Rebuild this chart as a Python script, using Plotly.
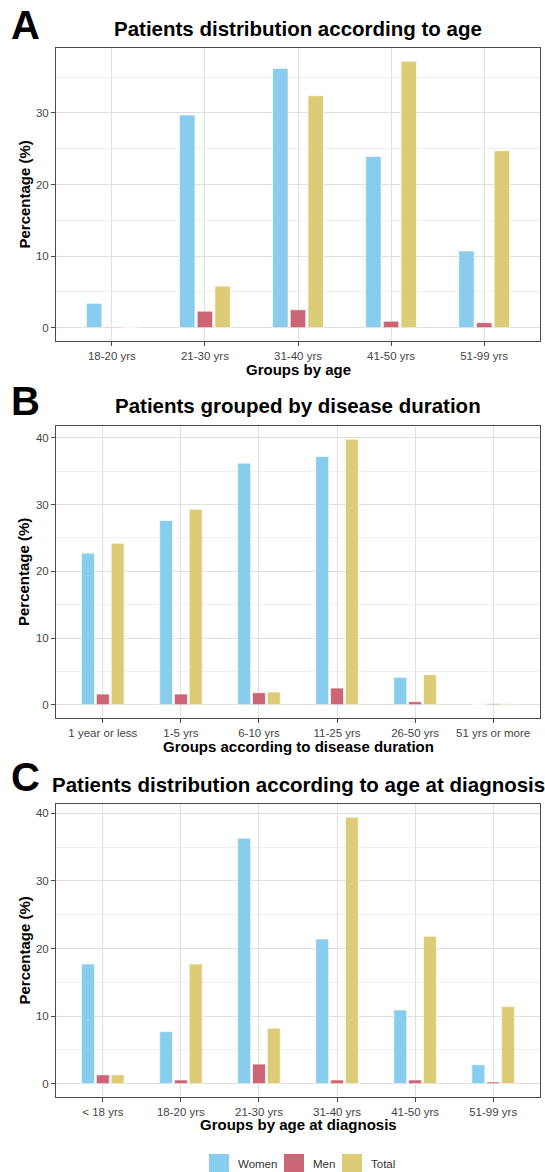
import plotly.graph_objects as go

W, H = 545, 1172

series_names = ["Women", "Men", "Total"]
colors = ["#88CCEE", "#CC6677", "#DDCC77"]

# Panel A
cats_a = ["18-20 yrs", "21-30 yrs", "31-40 yrs", "41-50 yrs", "51-99 yrs"]
women_a = [3.4, 29.7, 36.2, 23.9, 10.7]
men_a = [0.1, 2.3, 2.5, 0.9, 0.7]
total_a = [0.05, 5.8, 32.4, 37.2, 24.7]

# Panel B
cats_b = ["1 year or less", "1-5 yrs", "6-10 yrs", "11-25 yrs", "26-50 yrs", "51 yrs or more"]
women_b = [22.7, 27.6, 36.2, 37.2, 4.1, 0.0]
men_b = [1.6, 1.6, 1.8, 2.5, 0.45, 0.15]
total_b = [24.2, 29.3, 1.9, 39.8, 4.5, 0.15]

# Panel C
cats_c = ["< 18 yrs", "18-20 yrs", "21-30 yrs", "31-40 yrs", "41-50 yrs", "51-99 yrs"]
women_c = [17.7, 7.7, 36.3, 21.4, 10.9, 2.8]
men_c = [1.3, 0.55, 2.9, 0.55, 0.55, 0.25]
total_c = [1.3, 17.7, 8.2, 39.4, 21.8, 11.4]

titles = ["Patients distribution according to age",
          "Patients grouped by disease duration",
          "Patients distribution according to age at diagnosis"]
xtitles = ["Groups by age", "Groups according to disease duration", "Groups by age at diagnosis"]
letters = ["A", "B", "C"]
ytitle = "Percentage (%)"

panels = [
    (cats_a, [women_a, men_a, total_a], [0, 10, 20, 30]),
    (cats_b, [women_b, men_b, total_b], [0, 10, 20, 30, 40]),
    (cats_c, [women_c, men_c, total_c], [0, 10, 20, 30, 40]),
]

# pixel layout (top, bottom) of each plot panel
PL, PR = 56, 540
boxes = [(48, 341), (426, 718), (804, 1097)]
title_y = [29, 405, 784]
letter_y = [25, 401, 777]
xtitle_y = [369, 746, 1124]

def py(px):
    return 1 - px / H

fig = go.Figure()
annotations = []
shapes = []
font_main = "Liberation Sans, Arial, sans-serif"

for i, (cats, vals, yt) in enumerate(panels):
    suffix = "" if i == 0 else str(i + 1)
    xa = "x" + suffix
    ya = "y" + suffix
    for name, col, v in zip(series_names, colors, vals):
        fig.add_trace(go.Bar(x=cats, y=v, name=name, marker=dict(color=col, line=dict(color="white", width=0.6)),
                             xaxis=xa, yaxis=ya, showlegend=False))
    ymax = max(max(v) for v in vals)
    top, bot = boxes[i]
    axis_common = dict(showline=True, mirror=True, linecolor="#4a4a4a", linewidth=1,
                       ticks="outside", ticklen=4, tickcolor="#4a4a4a",
                       tickfont=dict(family=font_main, size=11.5, color="#444444"),
                       showgrid=True, gridcolor="#e0e0e0", gridwidth=1, zeroline=False)
    fig.layout["xaxis" + suffix] = dict(axis_common, domain=[PL / W, PR / W], anchor=ya,
                                         range=[-0.6, len(cats) - 0.4], type="category")
    fig.layout["yaxis" + suffix] = dict(axis_common, domain=[py(bot), py(top)], anchor=xa,
                                         range=[-0.05 * ymax, 1.05 * ymax], tickvals=yt,
                                         minor=dict(dtick=5, tick0=5, showgrid=True, gridcolor="#efefef",
                                                    gridwidth=0.6, ticks=""))
    annotations.append(dict(text="<b>" + titles[i] + "</b>", x=(PL + PR) / 2 / W, y=py(title_y[i]),
                            xref="paper", yref="paper", showarrow=False, xanchor="center", yanchor="middle",
                            font=dict(family=font_main, size=20.5, color="black")))
    annotations.append(dict(text="<b>" + letters[i] + "</b>", x=9 / W, y=py(letter_y[i]),
                            xref="paper", yref="paper", showarrow=False, xanchor="left", yanchor="middle",
                            font=dict(family=font_main, size=40, color="black")))
    annotations.append(dict(text="<b>" + xtitles[i] + "</b>", x=(PL + PR) / 2 / W, y=py(xtitle_y[i]),
                            xref="paper", yref="paper", showarrow=False, xanchor="center", yanchor="middle",
                            font=dict(family=font_main, size=15, color="black")))
    annotations.append(dict(text="<b>" + ytitle + "</b>", x=24 / W, y=py((top + bot) / 2),
                            xref="paper", yref="paper", showarrow=False, xanchor="center", yanchor="middle",
                            textangle=-90, font=dict(family=font_main, size=15, color="black")))

# legend (manual, to match the large square keys)
key_x = [209, 284, 342]
for name, col, kx in zip(series_names, colors, key_x):
    shapes.append(dict(type="rect", xref="paper", yref="paper", x0=kx / W, x1=(kx + 20) / W,
                       y0=py(1174), y1=py(1154), fillcolor=col, line=dict(width=0)))
    annotations.append(dict(text=name, x=(kx + 27) / W, y=py(1164), xref="paper", yref="paper",
                            showarrow=False, xanchor="left", yanchor="middle",
                            font=dict(family=font_main, size=11.5, color="#333333")))

fig.update_layout(width=W, height=H, margin=dict(l=0, r=0, t=0, b=0),
                  paper_bgcolor="white", plot_bgcolor="white",
                  barmode="group", bargap=0.43, bargroupgap=0.13,
                  annotations=annotations, shapes=shapes, showlegend=False)

fig.write_html("out.html", config={"displayModeBar": False},
               post_script="document.body.style.margin='0';document.body.style.overflow='hidden';")
